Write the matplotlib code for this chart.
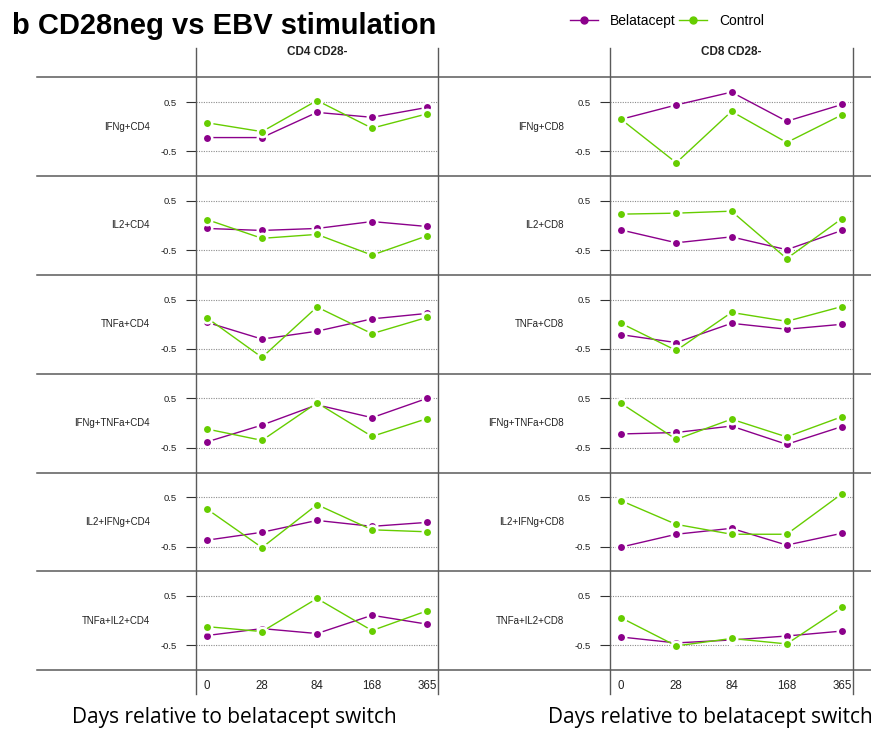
import matplotlib
matplotlib.use("Agg")
import matplotlib.pyplot as plt
from matplotlib.lines import Line2D

# ---------------- data ----------------
days = ["0", "28", "84", "168", "365"]
rows_cd4 = ["IFNg+CD4", "IL2+CD4", "TNFa+CD4", "IFNg+TNFa+CD4", "IL2+IFNg+CD4", "TNFa+IL2+CD4"]
rows_cd8 = ["IFNg+CD8", "IL2+CD8", "TNFa+CD8", "IFNg+TNFa+CD8", "IL2+IFNg+CD8", "TNFa+IL2+CD8"]

belatacept_cd4 = [
    [-0.22, -0.22, 0.29, 0.19, 0.39],
    [-0.06, -0.10, -0.06, 0.08, -0.02],
    [0.04, -0.30, -0.14, 0.11, 0.22],
    [-0.38, -0.04, 0.37, 0.11, 0.50],
    [-0.37, -0.21, 0.03, -0.09, -0.01],
    [-0.30, -0.16, -0.26, 0.11, -0.07],
]
control_cd4 = [
    [0.08, -0.10, 0.53, -0.03, 0.26],
    [0.12, -0.26, -0.18, -0.60, -0.21],
    [0.13, -0.67, 0.35, -0.19, 0.14],
    [-0.12, -0.35, 0.41, -0.27, 0.09],
    [0.26, -0.52, 0.35, -0.16, -0.20],
    [-0.12, -0.22, 0.45, -0.20, 0.20],
]
belatacept_cd8 = [
    [0.15, 0.44, 0.70, 0.11, 0.45],
    [-0.09, -0.35, -0.23, -0.49, -0.10],
    [-0.21, -0.37, 0.02, -0.10, 0.00],
    [-0.22, -0.19, -0.06, -0.43, -0.07],
    [-0.51, -0.25, -0.13, -0.47, -0.23],
    [-0.33, -0.45, -0.39, -0.31, -0.21],
]
control_cd8 = [
    [0.15, -0.73, 0.31, -0.32, 0.24],
    [0.23, 0.25, 0.29, -0.67, 0.14],
    [0.02, -0.53, 0.24, 0.06, 0.36],
    [0.40, -0.33, 0.08, -0.28, 0.13],
    [0.43, -0.05, -0.25, -0.25, 0.57],
    [0.06, -0.51, -0.36, -0.47, 0.27],
]
col_titles = ["CD4 CD28-", "CD8 CD28-"]
series_names = ["Belatacept", "Control"]

# ---------------- style ----------------
W, H = 871, 730
DPI = 100
PURPLE = "#8B008B"
GREEN = "#66CD00"
FRAME = "#5a5a5a"
PX = 72.0 / DPI  # points per pixel

plt.rcParams["font.family"] = ["Liberation Sans", "DejaVu Sans"]

fig = plt.figure(figsize=(W / DPI, H / DPI), dpi=DPI)

col_left = [196, 610]
col_width = [242, 243]
top0 = 77.3
ph = 98.8
nrows = 6

columns = [
    (rows_cd4, belatacept_cd4, control_cd4),
    (rows_cd8, belatacept_cd8, control_cd8),
]

def fx(px):
    return px / W

def fy(py):
    return 1 - py / H

for c, (rlabels, bel, ctl) in enumerate(columns):
    for r in range(nrows):
        rect = [fx(col_left[c]), fy(top0 + (r + 1) * ph), fx(col_width[c]), ph / H]
        ax = fig.add_axes(rect)
        ax.patch.set_alpha(0)
        for s in ax.spines.values():
            s.set_visible(False)
        ax.set_xlim(-0.2, 4.2)
        ax.set_ylim(-1.0, 1.0)
        ax.set_yticks([-0.5, 0.5])
        ax.set_yticklabels(["-0.5", "0.5"])
        ax.tick_params(axis="y", direction="out", length=10 * PX, width=0.8,
                       color="#333333", labelsize=6.8, pad=9 * PX, labelcolor="#222222")
        for yv in (-0.5, 0.5):
            ax.axhline(yv, color="#8c8c8c", lw=0.8, ls=(0, (1, 1.2)), zorder=1)
        x = list(range(len(days)))
        ax.plot(x, bel[r], color=PURPLE, lw=1.0, marker="o", ms=6.8,
                mfc=PURPLE, mec="white", mew=1.8, zorder=3, clip_on=False)
        ax.plot(x, ctl[r], color=GREEN, lw=1.0, marker="o", ms=6.8,
                mfc=GREEN, mec="white", mew=1.8, zorder=4, clip_on=False)
        ax.annotate(rlabels[r], xy=(0, 0.5), xycoords="axes fraction",
                    xytext=(-46 * PX, 0), textcoords="offset points",
                    ha="right", va="center", fontsize=7, color="#222222")
        if r == nrows - 1:
            ax.set_xticks(x)
            ax.set_xticklabels(days)
            ax.tick_params(axis="x", length=0, labelsize=8.3, pad=10 * PX, labelcolor="#222222")
        else:
            ax.set_xticks([])
    # column header
    fig.text(fx(col_left[c] + col_width[c] / 2), fy(52), col_titles[c],
             ha="center", va="center", fontsize=8.5, fontweight="bold", color="#222222")

# frame lines
for i in range(nrows + 1):
    yy = fy(top0 + i * ph)
    fig.add_artist(Line2D([fx(37), 1.0], [yy, yy], color=FRAME, lw=1.1))
for c in range(2):
    for xx in (col_left[c], col_left[c] + col_width[c]):
        fig.add_artist(Line2D([fx(xx), fx(xx)], [fy(48), fy(694)], color=FRAME, lw=1.0))

# title
fig.text(fx(12), fy(26), "b CD28neg vs EBV stimulation", ha="left", va="center",
         fontsize=21, fontweight="bold", color="black")

# legend
handles = [
    Line2D([], [], color=PURPLE, lw=1.0, marker="o", ms=5, mec=PURPLE),
    Line2D([], [], color=GREEN, lw=1.0, marker="o", ms=5, mec=GREEN),
]
fig.legend(handles, series_names, loc="center", bbox_to_anchor=(fx(667), fy(21)),
           ncol=2, frameon=False, fontsize=10, handlelength=2.0,
           columnspacing=0.2, handletextpad=0.9)

# x axis labels
for c in range(2):
    fig.text(fx([234, 710][c]), fy(718), "Days relative to belatacept switch",
             ha="center", va="center", fontsize=15, family=["Open Sans", "DejaVu Sans"],
             color="black")

fig.savefig("out.png", dpi=DPI)
